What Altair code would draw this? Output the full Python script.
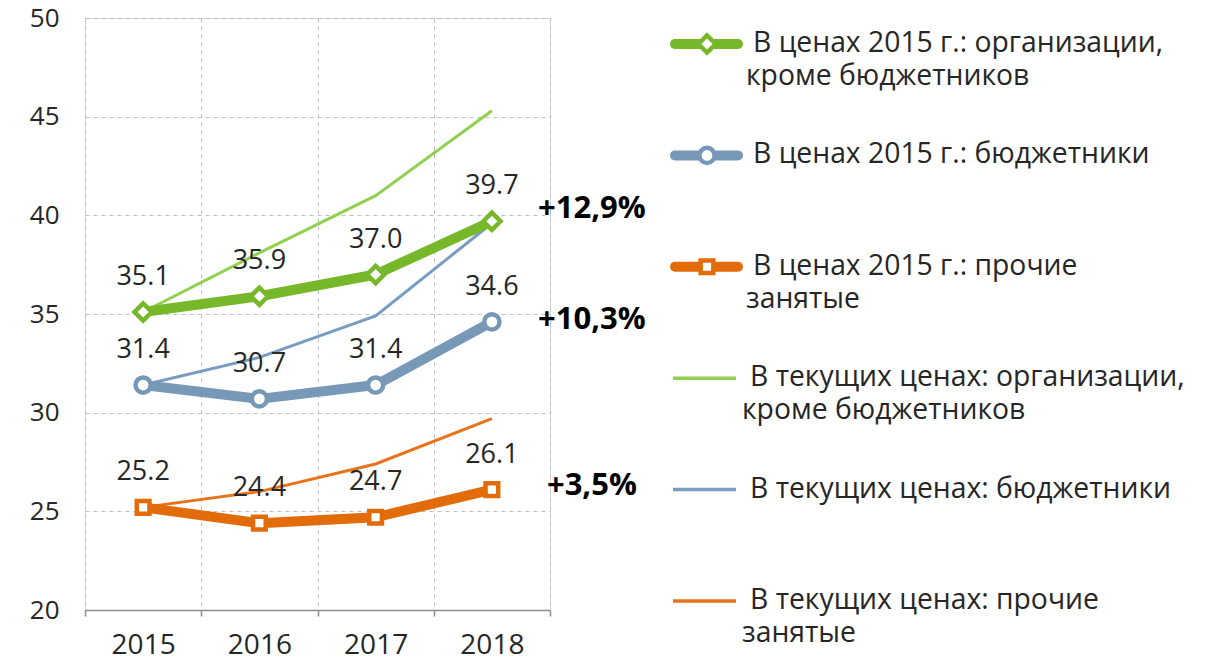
import altair as alt
import pandas as pd

years = ["2015", "2016", "2017", "2018"]

series_names = [
    "В ценах 2015 г.: организации, кроме бюджетников",
    "В ценах 2015 г.: бюджетники",
    "В ценах 2015 г.: прочие занятые",
    "В текущих ценах: организации, кроме бюджетников",
    "В текущих ценах: бюджетники",
    "В текущих ценах: прочие занятые",
]

const_org = [35.1, 35.9, 37.0, 39.7]
const_budget = [31.4, 30.7, 31.4, 34.6]
const_other = [25.2, 24.4, 24.7, 26.1]
cur_org = [35.1, 38.1, 41.0, 45.3]
cur_budget = [31.4, 32.8, 34.9, 39.6]
cur_other = [25.2, 26.0, 27.4, 29.7]

growth_labels = ["+12,9%", "+10,3%", "+3,5%"]
growth_y = [40.3, 34.7, 26.3]

legend_line1 = [
    "В ценах 2015 г.: организации,",
    "В ценах 2015 г.: бюджетники",
    "В ценах 2015 г.: прочие",
    "В текущих ценах: организации,",
    "В текущих ценах: бюджетники",
    "В текущих ценах: прочие",
]
legend_line2 = ["кроме бюджетников", "", "занятые", "кроме бюджетников", "", "занятые"]

colors = ["#76B82A", "#7898B8", "#E36C0A", "#92D050", "#7A9CC0", "#E8731A"]
shapes = ["diamond", "circle", "square"]
point_sizes = [300, 160, 230]

FONT = "Open Sans"
TXT = "#262626"

rows = []
all_vals = [const_org, const_budget, const_other, cur_org, cur_budget, cur_other]
for si, vals in enumerate(all_vals):
    for y, v in zip(years, vals):
        rows.append({"year": y, "series": series_names[si], "value": v,
                     "kind": "const" if si < 3 else "current",
                     "label": f"{v:.1f}"})
df = pd.DataFrame(rows)
df_const = df[df.kind == "const"]
df_cur = df[df.kind == "current"]

ann = pd.DataFrame({"year": ["2018"] * 3, "value": growth_y, "label": growth_labels})

leg = pd.DataFrame({
    "series": series_names,
    "line1": legend_line1,
    "line2": legend_line2,
    "kind": ["const"] * 3 + ["current"] * 3,
})
leg_const = leg[leg.kind == "const"]
leg_cur = leg[leg.kind == "current"]

color_scale = alt.Scale(domain=series_names, range=colors)
shape_scale = alt.Scale(domain=series_names[:3], range=shapes)
size_scale = alt.Scale(domain=series_names[:3], range=point_sizes)
yscale = alt.Scale(domain=[20, 50], nice=False, zero=False)

x_enc = alt.X("year:O", sort=years, title=None,
              scale=alt.Scale(paddingInner=0, paddingOuter=0),
              axis=alt.Axis(tickBand="extent", grid=True, gridDash=[4, 4],
                            gridColor="#BFBFBF", domainColor="#8C8C8C",
                            domainWidth=1.5, tickColor="#8C8C8C", tickSize=6,
                            tickWidth=1.5, labelFontSize=28, labelFont=FONT,
                            labelColor=TXT, labelPadding=15, labelAngle=0))

y_axis = alt.Axis(values=[20, 25, 30, 35, 40, 45, 50], grid=True, gridDash=[4, 4],
                  gridColor="#BFBFBF", domain=False, ticks=False,
                  labelFontSize=26, labelFont=FONT, labelColor=TXT,
                  labelPadding=26)

base_color = alt.Color("series:N", scale=color_scale, legend=None)

thin = alt.Chart(df_cur).mark_line(strokeWidth=3).encode(
    x=x_enc,
    y=alt.Y("value:Q", scale=yscale, axis=y_axis, title=None),
    color=base_color,
    detail="series:N",
)

thick = alt.Chart(df_const).mark_line(strokeWidth=10, strokeJoin="round").encode(
    x=alt.X("year:O", sort=years),
    y=alt.Y("value:Q", scale=yscale, axis=None),
    color=base_color,
    detail="series:N",
)

pts = alt.Chart(df_const).mark_point(filled=False, fill="white", fillOpacity=1,
                                     strokeWidth=4.5, opacity=1).encode(
    x=alt.X("year:O", sort=years),
    y=alt.Y("value:Q", scale=yscale, axis=None),
    color=base_color,
    shape=alt.Shape("series:N", scale=shape_scale, legend=None),
    size=alt.Size("series:N", scale=size_scale, legend=None),
)

labels = alt.Chart(df_const).mark_text(font=FONT, fontSize=27, color=TXT,
                                        baseline="middle", dy=-35).encode(
    x=alt.X("year:O", sort=years),
    y=alt.Y("value:Q", scale=yscale, axis=None),
    text="label:N",
)

annot = alt.Chart(ann).mark_text(font=FONT, fontSize=31, fontWeight="bold",
                                  color="#000000", baseline="middle",
                                  align="center", dx=100).encode(
    x=alt.X("year:O", sort=years),
    y=alt.Y("value:Q", scale=yscale, axis=None),
    text="label:N",
)

leg_y = alt.Y("series:N", sort=series_names, axis=None,
              scale=alt.Scale(type="point", domain=series_names, range=[26, 583],
                              padding=0))

leg_lines_const = alt.Chart(leg_const).mark_rule(strokeWidth=10, strokeCap="round").encode(
    x=alt.value(590), x2=alt.value(653), y=leg_y, color=base_color)
leg_lines_cur = alt.Chart(leg_cur).mark_rule(strokeWidth=3.5).encode(
    x=alt.value(588), x2=alt.value(651), y=leg_y, color=base_color)
leg_pts = alt.Chart(leg_const).mark_point(filled=False, fill="white", fillOpacity=1,
                                          strokeWidth=4.5, opacity=1).encode(
    x=alt.value(622), y=leg_y, color=base_color,
    shape=alt.Shape("series:N", scale=shape_scale, legend=None),
    size=alt.Size("series:N", scale=alt.Scale(domain=series_names[:3], range=[170, 110, 150]), legend=None),
)

LEG_FS = 28.3


def leg_text(data, field, x, dy):
    return alt.Chart(data).mark_text(font=FONT, fontSize=LEG_FS, color=TXT,
                                     align="left", baseline="middle",
                                     dy=dy).encode(
        x=alt.value(x), y=leg_y, text=f"{field}:N")


chart = alt.layer(
    thin, thick, pts, labels, annot,
    leg_lines_const, leg_lines_cur, leg_pts,
    leg_text(leg_const, "line1", 668, 0),
    leg_text(leg_const, "line2", 661, 33),
    leg_text(leg_cur, "line1", 665, 0),
    leg_text(leg_cur, "line2", 657, 33),
).resolve_scale(y="independent").properties(
    width=465, height=592,
    autosize=alt.AutoSizeParams(type="none"),
    padding={"left": 77, "top": 10, "right": 648, "bottom": 50},
).configure_view(stroke="#BFBFBF", strokeDash=[4, 4]).configure(background="white")

chart.save("out.html", embed_options={"renderer": "svg", "actions": False})
